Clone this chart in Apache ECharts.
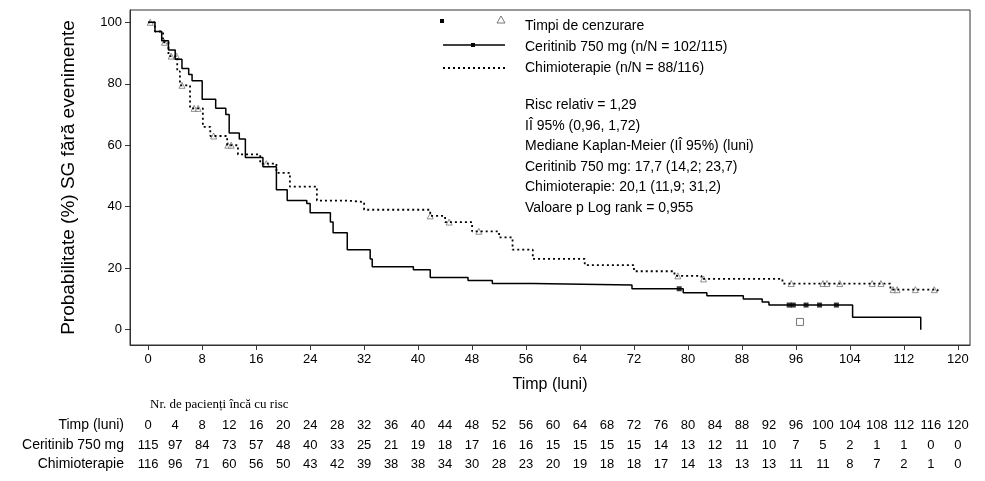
<!DOCTYPE html>
<html><head><meta charset="utf-8">
<script src="https://cdn.jsdelivr.net/npm/echarts@6/dist/echarts.min.js"></script>
<style>html,body{margin:0;padding:0;background:#fff}#chart{width:985px;height:481px}</style>
</head><body><div id="chart"></div>
<script>
// curbe Kaplan-Meier (timp luni, probabilitate %)
var ceritinibT = [0,1,2,3,4,5,6,6.5,8,10,11.5,12,13.5,14.4,17,19,20.6,23.5,24,27,27.4,29.5,32.9,33.2,39.3,41.8,47.4,51,57,71.7,79.3,82.8,88.2,91,92,104.4,114.5];
var ceritinibS = [100,97,94,91,88,85,83,81,75,72,70,64,62,56,53,45.5,42,41,38,35,31.5,26,23,20.5,19.5,17,16,15,14.5,13.3,12,11,10,9,8,4,0];
var chemoT = [0,1,2.2,3,4.3,4.7,6.2,8.1,9.2,11.7,13.3,16.6,19,21,25,29.5,32,41.8,44,48,52,54,57,64.7,72,78,82,94,110,117];
var chemoS = [100,97,93.5,89,84,79.5,72,66,63,60,57,54,51,46.5,42,41.5,39,37,35,32,30,26,23,21,19,17.5,16.5,15,13,12.5];
var ceritinibCens = [78.7,95,95.6,97.5,99.5,102];
var chemoCens = [0.3,2.4,3.4,4.2,5,6.8,7.4,9.7,11.8,12.3,17.5,41.8,44.6,49,78.5,82.3,95.3,100,100.6,102.5,107.3,108.6,110.4,111,113.7,116.5];
var riskTimes = [0,4,8,12,16,20,24,28,32,36,40,44,48,52,56,60,64,68,72,76,80,84,88,92,96,100,104,108,112,116,120];
var riskCeritinib = [115,97,84,73,57,48,40,33,25,21,19,18,17,16,16,15,15,15,15,14,13,12,11,10,7,5,2,1,1,0,0];
var riskChemo = [116,96,71,60,56,50,43,42,39,38,38,34,30,28,23,20,19,18,18,17,14,13,13,13,11,11,8,7,2,1,0];
var xTicks = [0,8,16,24,32,40,48,56,64,72,80,88,96,104,112,120];
var yTicks = [0,20,40,60,80,100];

function stepAt(T, S, t) {
    var v = S[0];
    for (var i = 0; i < T.length; i++) { if (T[i] <= t) v = S[i]; }
    return v;
}
function pairs(T, S) { return T.map(function (t, i) { return [t, S[i]]; }); }
function cens(T, S, C) { return C.map(function (t) { return [t, stepAt(T, S, t)]; }); }

var font = 'Liberation Sans, Arial, sans-serif';
var myChart = echarts.init(document.getElementById('chart'));
var option = {
    animation: false,
    grid: {left: 130, right: 15, top: 10, bottom: 136},
    xAxis: {
        type: 'value', min: -2.7, max: 121.8,
        name: 'Timp (luni)', nameLocation: 'middle', nameGap: 32,
        nameTextStyle: {fontFamily: font, fontSize: 16, color: '#000'},
        axisLine: {onZero: false, lineStyle: {color: '#333'}},
        axisTick: {customValues: xTicks, length: 5, lineStyle: {color: '#333'}},
        axisLabel: {customValues: xTicks, fontFamily: font, fontSize: 13, color: '#000', margin: 8},
        splitLine: {show: false}
    },
    yAxis: {
        type: 'value', min: -5, max: 104,
        name: 'Probabilitate (%) SG fără evenimente', nameLocation: 'middle', nameGap: 52,
        nameTextStyle: {fontFamily: font, fontSize: 19, color: '#000'},
        axisLine: {show: true, onZero: false, lineStyle: {color: '#333'}},
        axisTick: {show: true, customValues: yTicks, length: 5, lineStyle: {color: '#333'}},
        axisLabel: {customValues: yTicks, fontFamily: font, fontSize: 13, color: '#000'},
        splitLine: {show: false}
    },
    series: [
        {type: 'line', step: 'end', data: pairs(ceritinibT, ceritinibS), showSymbol: false,
         lineStyle: {color: '#000', width: 1.5}},
        {type: 'line', step: 'end', data: pairs(chemoT, chemoS), showSymbol: false,
         lineStyle: {color: '#000', width: 1.8, type: [2, 3]}},
        {type: 'scatter', data: cens(ceritinibT, ceritinibS, ceritinibCens), symbol: 'rect',
         symbolSize: 5, itemStyle: {color: '#000'}},
        {type: 'scatter', data: cens(chemoT, chemoS, chemoCens), symbol: 'triangle',
         symbolSize: 6, itemStyle: {color: '#fff', borderColor: '#777', borderWidth: 1}},
        {type: 'scatter', data: [[96.6, 2.5]], symbol: 'rect', symbolSize: 7,
         itemStyle: {color: '#fff', borderColor: '#555', borderWidth: 1}}
    ]
};
myChart.setOption(option);

var ts = {fontFamily: font, fontSize: 14, fill: '#000'};
var g = [
    {type: 'rect', shape: {x: 130, y: 10, width: 840, height: 335}, style: {fill: 'none', stroke: '#333', lineWidth: 1}, silent: true},
    {type: 'rect', shape: {x: 440, y: 19, width: 4, height: 4}, style: {fill: '#000'}},
    {type: 'polygon', shape: {points: [[501, 16], [497, 23], [505, 23]]}, style: {fill: '#fff', stroke: '#777'}},
    {type: 'line', shape: {x1: 443, y1: 45, x2: 505, y2: 45}, style: {stroke: '#000', lineWidth: 1.5}},
    {type: 'rect', shape: {x: 471, y: 43, width: 4, height: 4}, style: {fill: '#000'}},
    {type: 'line', shape: {x1: 443, y1: 68, x2: 505, y2: 68}, style: {stroke: '#000', lineWidth: 1.8, lineDash: [2, 3]}}
];
var lines = [
    ['Timpi de cenzurare', 26], ['Ceritinib 750 mg (n/N = 102/115)', 47], ['Chimioterapie (n/N = 88/116)', 68],
    ['Risc relativ = 1,29', 105], ['IÎ 95% (0,96, 1,72)', 126], ['Mediane Kaplan-Meier (IÎ 95%) (luni)', 146],
    ['Ceritinib 750 mg: 17,7 (14,2; 23,7)', 167], ['Chimioterapie: 20,1 (11,9; 31,2)', 187], ['Valoare p Log rank = 0,955', 208]
];
lines.forEach(function (l) {
    g.push({type: 'text', x: 525, y: l[1], style: Object.assign({text: l[0], textVerticalAlign: 'middle'}, ts)});
});
g.push({type: 'text', x: 150, y: 405, style: {text: 'Nr. de pacienți încă cu risc', fontFamily: 'Liberation Serif, serif', fontSize: 13, fill: '#000', textVerticalAlign: 'middle'}});
var rows = [['Timp (luni)', riskTimes, 425], ['Ceritinib 750 mg', riskCeritinib, 445], ['Chimioterapie', riskChemo, 464]];
rows.forEach(function (r) {
    g.push({type: 'text', x: 124, y: r[2], style: Object.assign({text: r[0], textAlign: 'right', textVerticalAlign: 'middle'}, ts)});
    riskTimes.forEach(function (t, i) {
        var px = myChart.convertToPixel({xAxisIndex: 0}, t);
        g.push({type: 'text', x: px, y: r[2], style: {text: String(r[1][i]), textAlign: 'center', textVerticalAlign: 'middle', fontFamily: font, fontSize: 13, fill: '#000'}});
    });
});
myChart.setOption({graphic: g});
</script>
</body></html>
